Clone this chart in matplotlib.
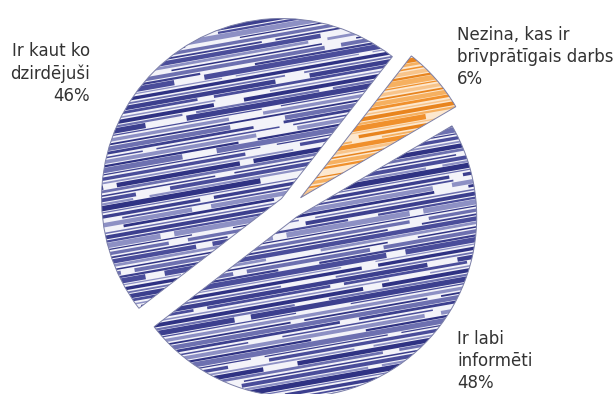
import numpy as np
from matplotlib import pyplot as plt
from matplotlib.patches import Wedge

# pie data
labels = ['Nezina, kas ir\nbrīvprātīgais darbs\n6%',
          'Ir kaut ko\ndzirdējuši\n46%',
          'Ir labi\ninformēti\n48%']
shares = [6, 46, 48]

face_colors = ['#fde8cf', '#f3f3f9', '#f3f3f9']
stroke_colors = [['#f0902c', '#f6b060', '#e8841e', '#f8c48a'],
                 ['#3c3f8e', '#6d70b0', '#2f3283', '#8d90c4', '#4a4d9a'],
                 ['#3c3f8e', '#6d70b0', '#2f3283', '#8d90c4', '#4a4d9a']]
stroke_widths = [3.2, 1.3, 2.4, 0.9, 3.8, 1.6, 2.8, 1.1, 2.0]
stroke_dashes = [(180, 14), (260, 30), (90, 10), (320, 22), (140, 40), (220, 12), (110, 25)]

fig = plt.figure(figsize=(6.15, 3.94), dpi=100)
ax = fig.add_axes([0, 0, 1, 1])

# explode is in data units here (pixels)
wedges, _ = ax.pie(shares, startangle=30.4, counterclock=True,
                   center=(290, 187), radius=180,
                   explode=[14, 12, 12], frame=True,
                   colors=face_colors,
                   wedgeprops=dict(linewidth=0))

# scribbled strokes, clipped to each wedge
tilt = np.tan(np.radians(10))
for i, w in enumerate(wedges):
    cx, cy = w.center
    r = w.r
    xs = np.array([cx - r - 60, cx + r + 60])
    k = 0
    y0 = cy - r - 80
    while y0 < cy + r + 40:
        lw = stroke_widths[k % len(stroke_widths)]
        col = stroke_colors[i][k % len(stroke_colors[i])]
        on, off = stroke_dashes[k % len(stroke_dashes)]
        offset = (k * 53 + i * 29) % (on + off)
        ax.plot(xs, y0 + (xs - cx) * tilt, color=col, lw=lw,
                dash_capstyle='butt', zorder=3,
                linestyle=(offset / lw, (on / lw, off / lw)),
                clip_path=w)
        y0 += 4.2
        k += 1
    w.set_zorder(2)

# thin outline on top
for w in wedges:
    ax.add_patch(Wedge(w.center, w.r, w.theta1, w.theta2, fill=False,
                       edgecolor='#7b7fa8', linewidth=0.7, zorder=4))

txt = dict(fontsize=12, color='#333333', linespacing=1.3, va='top')
ax.text(457, 394 - 26, labels[0], ha='left', **txt)
ax.text(90, 394 - 42, labels[1], ha='right', multialignment='right', **txt)
ax.text(457, 394 - 330, labels[2], ha='left', **txt)

ax.set_xlim(0, 615)
ax.set_ylim(0, 394)
ax.set_aspect('equal')
ax.axis('off')

fig.savefig('out.png', dpi=100)
